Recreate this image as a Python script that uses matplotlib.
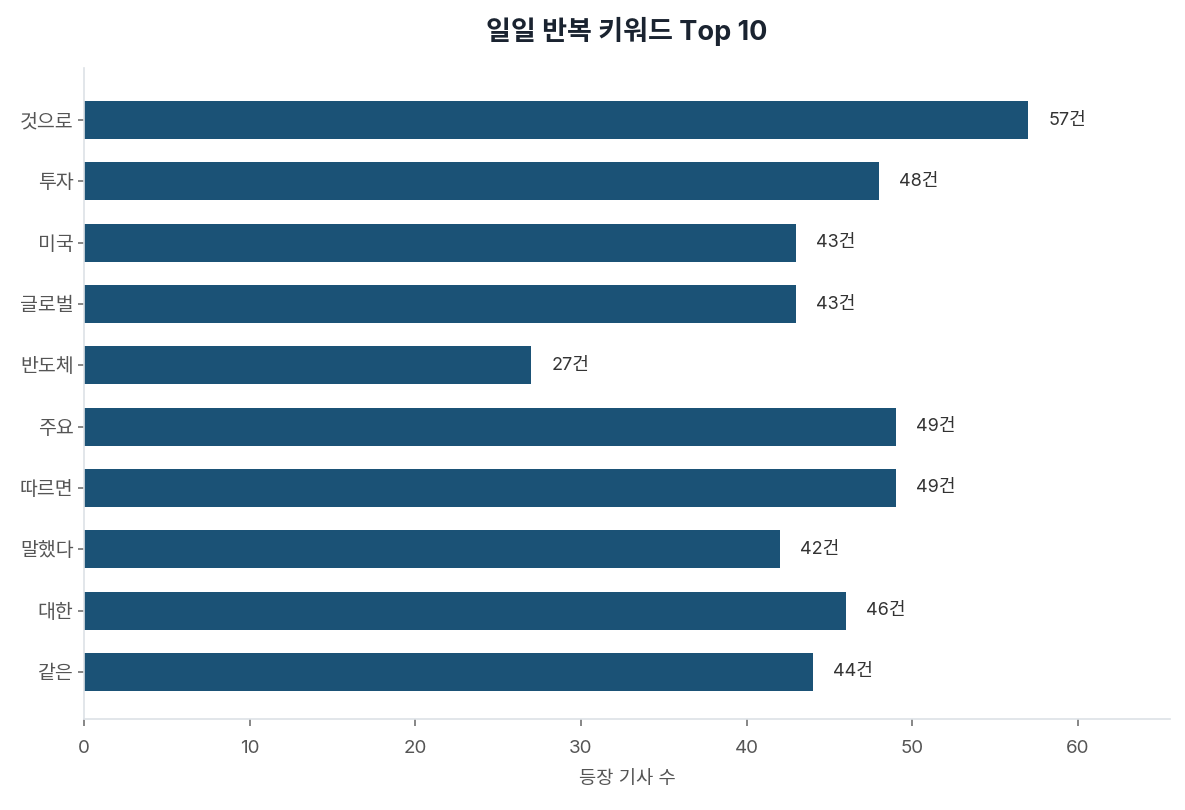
import matplotlib
matplotlib.use("Agg")
import matplotlib.pyplot as plt

# -----------------------------------------
# DATA
# -----------------------------------------
keywords = ["것으로", "투자", "미국", "글로벌", "반도체", "주요", "따르면", "말했다", "대한", "같은"]
counts = [57, 48, 43, 43, 27, 49, 49, 42, 46, 44]

plt.rcParams['font.family'] = ['Inter', 'Noto Sans CJK KR', 'DejaVu Sans']

bar_color = "#1b5276"

fig = plt.figure(figsize=(11.85, 8.1), dpi=100)
ax = fig.add_axes([0.0709, 0.1123, 0.9164, 0.8037])

y = list(range(len(keywords)))
ax.barh(y, counts, height=0.62, color=bar_color)

for yi, c in zip(y, counts):
    ax.text(c + 1.2, yi, f"{c}건", va="center", ha="left", fontsize=13, color="#333333")

ax.set_yticks(y)
ax.set_yticklabels(keywords)
ax.set_ylim(len(keywords) - 1 + 0.77, -0.85)
ax.set_xlim(0, max(counts) * 1.15)
ax.set_xticks([0, 10, 20, 30, 40, 50, 60])

ax.set_title("일일 반복 키워드 Top 10", fontsize=19.5, fontweight="bold", color="#1a2330", pad=20)
ax.set_xlabel("등장 기사 수", fontsize=13.5, color="#555555", labelpad=10)

for s in ["top", "right"]:
    ax.spines[s].set_visible(False)
for s in ["left", "bottom"]:
    ax.spines[s].set_color("#dde1e6")
    ax.spines[s].set_linewidth(1.2)

ax.tick_params(axis="y", colors="#555555", labelsize=14, length=4)
ax.tick_params(axis="x", colors="#555555", labelsize=13.5, length=5, pad=10)
ax.tick_params(axis="both", color="#666666", width=1.1)

fig.savefig("out.png", dpi=100)
